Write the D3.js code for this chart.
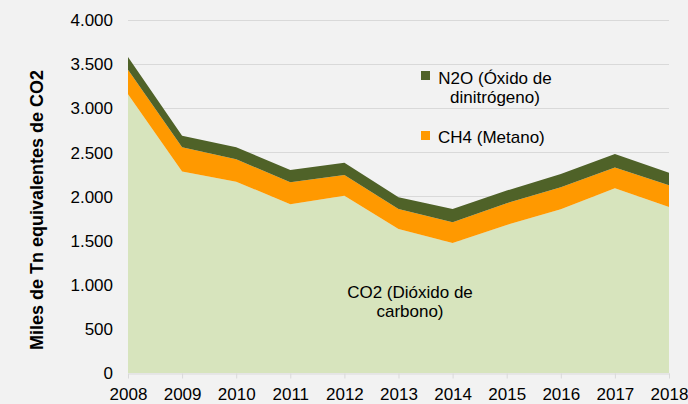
<!DOCTYPE html>
<html>
<head>
<meta charset="utf-8">
<script src="https://cdn.jsdelivr.net/npm/d3@7"></script>
<style>
  html, body { margin: 0; padding: 0; background: #f2f2f2; }
  svg { display: block; font-family: "Liberation Sans", Arial, sans-serif; }
</style>
</head>
<body>
<svg id="chart" width="688" height="404"></svg>
<script>
const years = [2008, 2009, 2010, 2011, 2012, 2013, 2014, 2015, 2016, 2017, 2018];
const co2 = [3155, 2280, 2165, 1910, 2007, 1630, 1472, 1676, 1853, 2090, 1879];
const ch4 = [275, 274, 253, 248, 234, 225, 234, 245, 249, 234, 245];
const n2o = [145, 131, 136, 139, 139, 135, 151, 143, 150, 154, 143];
const seriesKeys = ["co2", "ch4", "n2o"];
const seriesNames = {co2: ["CO2 (Dióxido de", "carbono)"], ch4: ["CH4 (Metano)"], n2o: ["N2O (Óxido de", "dinitrógeno)"]};
const colors = {co2: "#d7e4bd", ch4: "#ff9900", n2o: "#4f6228"};
const yTicks = [0, 500, 1000, 1500, 2000, 2500, 3000, 3500, 4000];
const yTitle = "Miles de Tn equivalentes de CO2";

const table = years.map((y, i) => ({year: y, co2: co2[i], ch4: ch4[i], n2o: n2o[i]}));

const svg = d3.select("#chart");
const W = 688, H = 404;
svg.append("rect").attr("width", W).attr("height", H).attr("fill", "#f2f2f2");

const m = {left: 128, right: 19, top: 19.5, bottom: 31};
const x = d3.scaleLinear().domain([2008, 2018]).range([m.left, W - m.right]);
const y = d3.scaleLinear().domain([0, 4000]).range([H - m.bottom, m.top]);

const fmt = v => d3.format(",")(v).replace(/,/g, ".");

// gridlines
svg.append("g")
  .selectAll("line").data(yTicks.filter(t => t > 0)).join("line")
  .attr("x1", x(2008)).attr("x2", x(2018))
  .attr("y1", d => Math.round(y(d)) + 0.5).attr("y2", d => Math.round(y(d)) + 0.5)
  .attr("stroke", "#d9d9d9").attr("stroke-width", 1);

// stacked areas
const stack = d3.stack().keys(seriesKeys);
const layers = stack(table);
const area = d3.area()
  .x(d => x(d.data.year))
  .y0(d => y(d[0]))
  .y1(d => y(d[1]));
svg.append("g").selectAll("path").data(layers).join("path")
  .attr("d", area)
  .attr("fill", d => colors[d.key]);

// x axis
const xAxis = d3.axisBottom(x).tickValues(years).tickFormat(d3.format("d")).tickSize(5).tickSizeOuter(0);
const gx = svg.append("g").attr("transform", `translate(0,${Math.round(y(0)) + 0.5})`).call(xAxis);
gx.select(".domain").attr("stroke", "#d9d9d9");
gx.selectAll(".tick line").attr("stroke", "#d9d9d9");
gx.selectAll(".tick text").attr("fill", "#000").attr("font-size", 17)
  .attr("font-family", "Liberation Sans, Arial, sans-serif").attr("dy", "0.95em").attr("y", 10);

// y axis
const yAxis = d3.axisLeft(y).tickValues(yTicks).tickFormat(fmt).tickSize(0);
const gy = svg.append("g").attr("transform", `translate(${m.left - 15},0)`).call(yAxis);
gy.select(".domain").remove();
gy.selectAll(".tick text").attr("fill", "#000").attr("font-size", 17)
  .attr("font-family", "Liberation Sans, Arial, sans-serif").attr("x", 0).attr("dy", "0.35em");

// y title
svg.append("text")
  .attr("transform", `translate(43,210) rotate(-90)`)
  .attr("text-anchor", "middle")
  .attr("font-size", 18).attr("font-weight", "bold").attr("fill", "#000")
  .text(yTitle);

// legend
const legend = [
  {key: "n2o", sq: [421, 71], tx: 495, ty: [84, 103]},
  {key: "ch4", sq: [421, 131], tx: 495, ty: [143]}
];
legend.forEach(l => {
  svg.append("rect").attr("x", l.sq[0]).attr("y", l.sq[1]).attr("width", 9).attr("height", 9).attr("fill", colors[l.key]);
  seriesNames[l.key].forEach((line, i) => {
    svg.append("text").attr("x", l.key === "ch4" ? 438 : l.tx).attr("y", l.ty[i])
      .attr("text-anchor", l.key === "ch4" ? "start" : "middle")
      .attr("font-size", 17).attr("fill", "#000").text(line);
  });
});

// CO2 label inside area
seriesNames.co2.forEach((line, i) => {
  svg.append("text").attr("x", 410).attr("y", 298 + i * 19)
    .attr("text-anchor", "middle").attr("font-size", 17).attr("fill", "#000").text(line);
});
</script>
</body>
</html>
